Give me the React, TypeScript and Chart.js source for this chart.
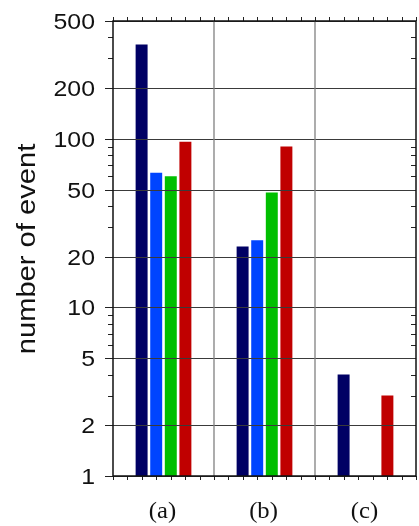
import React, { useEffect, useRef } from "react";
import { Chart, registerables } from "chart.js";

Chart.register(...registerables);

// Event counts per case, one series per colour
const categories = ["(a)", "(b)", "(c)"];
const seriesNavy = [363, 23, 4];
const seriesBlue = [63, 25, null];
const seriesGreen = [60, 48, null];
const seriesRed = [96, 90, 3];

const yMajorTicks = [1, 2, 5, 10, 20, 50, 100, 200, 500];
const yMinorTicks = [3, 4, 6, 7, 8, 9, 30, 40, 60, 70, 80, 90, 300, 400];
const yTitle = "number of event";

const W = 419;
const H = 526;

const framePlugin = {
  id: "frame",
  afterDatasetsDraw(chart: any) {
    const { ctx, chartArea: a, scales } = chart;
    const y = scales.y;
    const x = scales.x;
    const n = categories.length;
    const catW = (a.right - a.left) / n;

    ctx.save();
    // horizontal grid at major ticks
    ctx.strokeStyle = "#3a3a3a";
    ctx.lineWidth = 1;
    for (const v of yMajorTicks) {
      const py = Math.round(y.getPixelForValue(v)) + 0.5;
      ctx.beginPath();
      ctx.moveTo(a.left, py);
      ctx.lineTo(a.right, py);
      ctx.stroke();
    }
    // vertical separators between categories
    ctx.strokeStyle = "#808080";
    ctx.lineWidth = 1.3;
    for (let i = 1; i < n; i++) {
      const px = a.left + catW * i;
      ctx.beginPath();
      ctx.moveTo(px, a.top);
      ctx.lineTo(px, a.bottom);
      ctx.stroke();
    }

    // left ticks (outward), right ticks (inward)
    ctx.strokeStyle = "#222";
    ctx.lineWidth = 1;
    for (const v of yMajorTicks) {
      const py = Math.round(y.getPixelForValue(v)) + 0.5;
      ctx.beginPath();
      ctx.moveTo(a.left - 8, py);
      ctx.lineTo(a.left, py);
      ctx.stroke();
    }
    for (const v of yMinorTicks) {
      const py = Math.round(y.getPixelForValue(v)) + 0.5;
      ctx.beginPath();
      ctx.moveTo(a.left - 5, py);
      ctx.lineTo(a.left, py);
      ctx.moveTo(a.right - 5, py);
      ctx.lineTo(a.right, py);
      ctx.stroke();
    }
    // top and bottom ticks: 7 subdivisions per category
    const sub = 7;
    for (let k = 0; k <= n * sub; k++) {
      const px = Math.round(a.left + (catW / sub) * k) + 0.5;
      ctx.beginPath();
      ctx.moveTo(px, a.bottom);
      ctx.lineTo(px, a.bottom + 4);
      ctx.moveTo(px, a.top);
      ctx.lineTo(px, a.top - 4);
      ctx.stroke();
    }

    // frame
    ctx.strokeStyle = "#111";
    ctx.lineWidth = 1.5;
    ctx.strokeRect(a.left, a.top, a.right - a.left, a.bottom - a.top);

    // y tick labels
    ctx.fillStyle = "#111";
    ctx.font = "22px 'Liberation Sans', Arial, sans-serif";
    ctx.textAlign = "right";
    ctx.textBaseline = "alphabetic";
    for (const v of yMajorTicks) {
      const py = y.getPixelForValue(v);
      ctx.save();
      ctx.translate(a.left - 18, py + 8);
      ctx.scale(1.13, 1);
      ctx.fillText(String(v), 0, 0);
      ctx.restore();
    }

    // category labels
    ctx.font = "23px 'Liberation Serif', 'Times New Roman', serif";
    ctx.textAlign = "center";
    categories.forEach((c, i) => {
      const px = x.getPixelForValue(i);
      ctx.save();
      ctx.translate(px - 1, a.bottom + 42);
      ctx.scale(1.07, 1);
      ctx.fillText(c, 0, 0);
      ctx.restore();
    });

    // axis title
    ctx.font = "26px 'Liberation Sans', Arial, sans-serif";
    ctx.save();
    ctx.translate(35, (a.top + a.bottom) / 2 + 0.5);
    ctx.rotate(-Math.PI / 2);
    ctx.scale(1.12, 1);
    ctx.textAlign = "center";
    ctx.fillText(yTitle, 0, 0);
    ctx.restore();

    ctx.restore();
  },
};

export default function App() {
  const ref = useRef<HTMLCanvasElement | null>(null);

  useEffect(() => {
    if (!ref.current) return;
    const mk = (label: string, data: (number | null)[], color: string) => ({
      label,
      data,
      backgroundColor: color,
      borderWidth: 0,
    });
    const chart = new Chart(ref.current, {
      type: "bar",
      data: {
        labels: categories,
        datasets: [
          mk("navy", seriesNavy, "#000064"),
          mk("blue", seriesBlue, "#0044ff"),
          mk("green", seriesGreen, "#00bf00"),
          mk("red", seriesRed, "#c00000"),
        ],
      },
      options: {
        responsive: false,
        animation: false,
        devicePixelRatio: 1,
        layout: { padding: { left: 113, right: 3, top: 21, bottom: 50 } },
        datasets: { bar: { categoryPercentage: 0.578, barPercentage: 0.82 } },
        plugins: { legend: { display: false }, tooltip: { enabled: false } },
        scales: {
          x: { display: false },
          y: { type: "logarithmic", min: 1, max: 500, display: false },
        },
      },
      plugins: [framePlugin],
    });
    return () => chart.destroy();
  }, []);

  return (
    <div style={{ position: "fixed", left: 0, top: 0, width: W, height: H, background: "#fff" }}>
      <canvas ref={ref} width={W} height={H} style={{ width: W, height: H, display: "block" }} />
    </div>
  );
}
